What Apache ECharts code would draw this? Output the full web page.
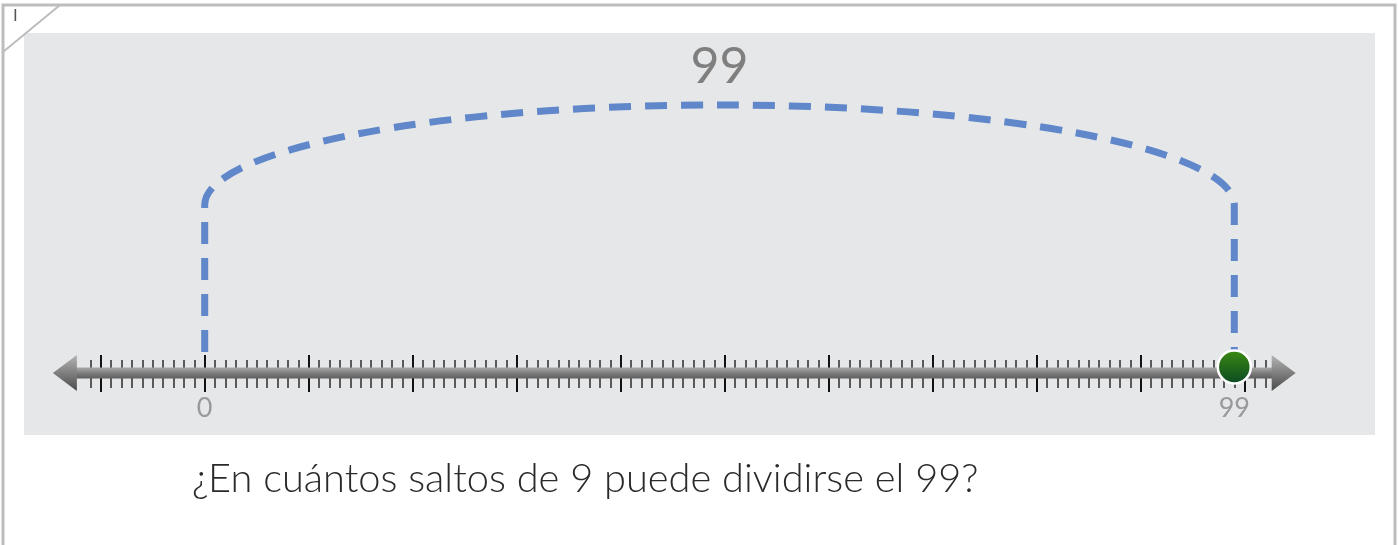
<!DOCTYPE html>
<html><head><meta charset="utf-8">
<script src="https://cdn.jsdelivr.net/npm/echarts@6/dist/echarts.min.js"></script>
<style>html,body{margin:0;padding:0;background:#fff}#c{width:1398px;height:545px}</style>
</head><body><div id="c"></div>
<script>
// ---- data ----
const minorRange = [-11, 102];      // extent of the small ticks
const majorRange = [-10, 100];      // extent of the large ticks
const minorStep = 1;
const majorStep = 10;
const lineExtent = [[-14.6, 104.9]]; // arrow tips of the number line
const jumps = [[0, 99]];             // jump start, jump end
const jumpLabels = ['99'];
const pointLabels = [[0], [99]];     // labelled positions on the line
const markedPoints = [[99, 0]];      // green point
const questionText = '¿En cuántos saltos de 9 puede dividirse el 99?';
const pageLabel = 'I';

// ---- layout ----
const PX = 10.4, ZERO = 204.7, LINE_Y = 373;
function gridFor(r){ return { left: ZERO + r[0]*PX, width: (r[1]-r[0])*PX, top: LINE_Y-300, height: 300 }; }

function tickAxis(gi, r, step, inside, len, color){
  return { type:'value', gridIndex: gi, position:'bottom', offset:0, min: r[0], max: r[1], interval: step,
    axisLine:{show:false,onZero:false}, axisLabel:{show:false}, splitLine:{show:false},
    axisTick:{show:true, inside: inside, length: len, lineStyle:{color: color, width: 2}} };
}

const chart = echarts.init(document.getElementById('c'), null, {renderer:'canvas'});
const lineGrad = new echarts.graphic.LinearGradient(0,0,0,1,[{offset:0,color:'#a8a8a8'},{offset:0.55,color:'#7a7a7a'},{offset:1,color:'#5e5e5e'}]);
const arrowGrad = new echarts.graphic.LinearGradient(0,0,0,1,[{offset:0,color:'#b4b4b4'},{offset:1,color:'#4a4a4a'}]);

chart.setOption({
  animation: false,
  grid: [gridFor(minorRange), gridFor(majorRange)],
  xAxis: [
    tickAxis(0, minorRange, minorStep, false, 15, '#5a5a5a'),
    tickAxis(0, minorRange, minorStep, true, 13, '#5a5a5a'),
    tickAxis(1, majorRange, majorStep, false, 19, '#111'),
    tickAxis(1, majorRange, majorStep, true, 18, '#111')
  ],
  yAxis: [
    {type:'value', gridIndex:0, min:0, max:1, show:false},
    {type:'value', gridIndex:1, min:0, max:1, show:false}
  ],
  graphic: [
    {type:'rect', z:-20, silent:true, shape:{x:3,y:5,width:1392,height:570}, style:{fill:'#fff', stroke:'#bdbdbd', lineWidth:3}},
    {type:'rect', z:-19, silent:true, shape:{x:24,y:33,width:1351,height:402}, style:{fill:'#e6e7e9'}},
    {type:'line', z:-18, silent:true, shape:{x1:3,y1:52,x2:60,y2:5}, style:{stroke:'#bdbdbd', lineWidth:2}},
    {type:'text', z:-18, silent:true, x:13, y:9, style:{text:pageLabel, fill:'#555', font:'16px "DejaVu Sans"'}},
    {type:'text', silent:true, x:192, y:479, style:{text:questionText, fill:'#2a2a2a', font:'300 39.8px Lato', verticalAlign:'middle'}}
  ],
  series: [
    { type:'custom', name:'line', xAxisIndex:0, yAxisIndex:0, clip:false, z:3, data: lineExtent,
      renderItem: function(params, api){
        const a = api.coord([api.value(0), 0]), b = api.coord([api.value(1), 0]);
        const y = a[1];
        return {type:'group', children:[
          {type:'rect', shape:{x:a[0]+23, y:y-5.5, width:b[0]-a[0]-46, height:11}, style:{fill:lineGrad}},
          {type:'polygon', shape:{points:[[a[0],y],[a[0]+24,y-18],[a[0]+24,y+18]]}, style:{fill:arrowGrad}},
          {type:'polygon', shape:{points:[[b[0],y],[b[0]-24,y-18],[b[0]-24,y+18]]}, style:{fill:arrowGrad}}
        ]};
      }},
    { type:'custom', name:'jump', xAxisIndex:0, yAxisIndex:0, clip:false, z:4, data: jumps,
      renderItem: function(params, api){
        const a = api.coord([api.value(0), 0]), b = api.coord([api.value(1), 0]);
        const yb = a[1]-21, yc = a[1]-168, rx = (b[0]-a[0])/2, ry = 100;
        const d = 'M'+a[0]+' '+yb+' L'+a[0]+' '+yc+' A'+rx+' '+ry+' 0 0 1 '+b[0]+' '+yc+' L'+b[0]+' '+yb;
        return {type:'group', children:[
          {type:'path', shape:{pathData:d}, style:{fill:null, stroke:'#5f87c9', lineWidth:7, lineDash:[22,14]}},
          {type:'text', x:(a[0]+b[0])/2, y:yc-ry-38, style:{text:jumpLabels[params.dataIndex], fill:'#7f7f7f', font:'50px Lato', align:'center', verticalAlign:'middle'}}
        ]};
      }},
    { type:'custom', name:'labels', xAxisIndex:0, yAxisIndex:0, clip:false, z:4, data: pointLabels,
      renderItem: function(params, api){
        const p = api.coord([api.value(0), 0]);
        return {type:'text', x:p[0], y:p[1]+35, style:{text:String(api.value(0)), fill:'#9a9a9a', font:'27px Lato', align:'center', verticalAlign:'middle'}};
      }},
    { type:'scatter', name:'point', xAxisIndex:0, yAxisIndex:0, z:6, data: markedPoints,
      symbolSize:33, symbolOffset:[0,-6],
      itemStyle:{opacity:1, color: new echarts.graphic.LinearGradient(0,0,0,1,[{offset:0,color:'#3d8c12'},{offset:1,color:'#0a4824'}]), borderColor:'#fff', borderWidth:2.5}}
  ]
});
</script></body></html>
